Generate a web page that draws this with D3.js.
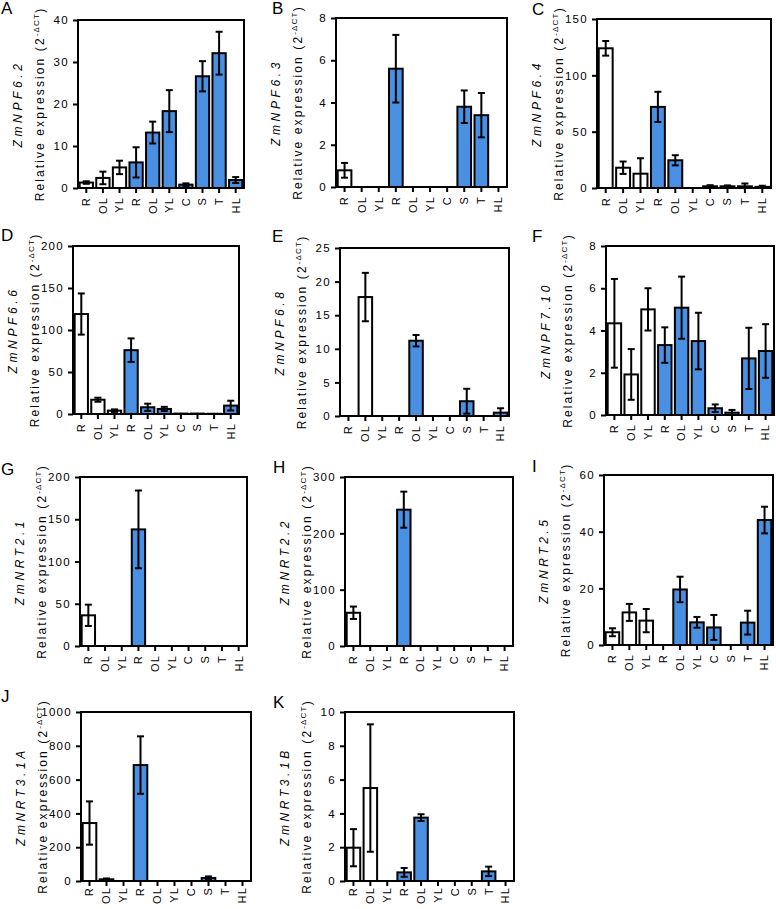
<!DOCTYPE html>
<html><head><meta charset="utf-8">
<script src="https://cdn.jsdelivr.net/npm/d3@7"></script>
<style>
html,body{margin:0;padding:0;background:#fff;}
svg{display:block;font-family:"Liberation Sans",Arial,sans-serif;}
</style></head>
<body>
<svg id="chart" width="776" height="909"></svg>
<script>
// ---------- DATA ----------
const categories = ["R","OL","YL","R","OL","YL","C","S","T","HL"];
const tissueGroup = [0,0,0,1,1,1,1,1,1,1];
const panelLetters = ["A","B","C","D","E","F","G","H","I","J","K"];
const geneNames = ["ZmNPF6.2","ZmNPF6.3","ZmNPF6.4","ZmNPF6.6","ZmNPF6.8","ZmNPF7.10","ZmNRT2.1","ZmNRT2.2","ZmNRT2.5","ZmNRT3.1A","ZmNRT3.1B"];
const yTicks = [
  [0,10,20,30,40],
  [0,2,4,6,8],
  [0,50,100,150],
  [0,50,100,150,200],
  [0,5,10,15,20,25],
  [0,2,4,6,8],
  [0,50,100,150,200],
  [0,100,200,300],
  [0,20,40,60],
  [0,200,400,600,800,1000],
  [0,2,4,6,8,10]
];
const valuesA = [1.3,2.4,4.9,6.1,13.2,18.3,0.8,26.6,32.1,1.9];
const errorsA = [0.3,1.5,1.6,3.6,2.6,5.0,0.3,3.6,5.1,0.7];
const valuesB = [0.79,0,0,5.6,0,0,0,3.8,3.4,0];
const errorsB = [0.35,0,0,1.6,0,0,0,0.77,1.05,0];
const valuesC = [124,18,12.7,72,24.6,0,1.5,1.5,1.5,1];
const errorsC = [6.5,5.5,13.7,13.4,4.5,0,1,0.8,2.5,1];
const valuesD = [119,17,4,76,8,6,0.5,0.5,0.3,10];
const errorsD = [24.5,2.4,1.5,14,4.3,2.5,0,0,0,5.8];
const valuesE = [0,17.7,0,0,11.2,0,0,2.2,0,0.5];
const errorsE = [0,3.6,0,0,0.85,0,0,1.85,0,0.65];
const valuesF = [4.34,1.92,5.0,3.31,5.08,3.5,0.32,0.11,2.68,3.03];
const errorsF = [2.1,1.2,1.0,0.84,1.47,1.34,0.18,0.13,1.45,1.27];
const valuesG = [36.3,0,0,138,0,0,0,0,0,0];
const errorsG = [12.6,0,0,46,0,0,0,0,0,0];
const valuesH = [59,0,0,242,0,0,0,0,0,0];
const errorsH = [11,0,0,32,0,0,0,0,0,0];
const valuesI = [4.5,11.5,8.6,0,19.6,8.0,6.2,0,7.9,44.1];
const errorsI = [1.4,3,4.1,0,4.5,1.9,4.4,0,4.2,4.7];
const valuesJ = [343,10,0,686,0,0,0,18,0,0];
const errorsJ = [128,5,0,170,0,0,0,9,0,0];
const valuesK = [1.97,5.5,0,0.51,3.75,0,0,0,0.57,0];
const errorsK = [1.1,3.77,0,0.26,0.2,0,0,0,0.28,0];
const allValues = [valuesA,valuesB,valuesC,valuesD,valuesE,valuesF,valuesG,valuesH,valuesI,valuesJ,valuesK];
const allErrors = [errorsA,errorsB,errorsC,errorsD,errorsE,errorsF,errorsG,errorsH,errorsI,errorsJ,errorsK];

// ---------- LAYOUT ----------
const boxes = [
  [78,20,244,188],[336,18,507,187],[597,19,771,188],
  [73,246,239,414],[340,248,509,416],[606,246,774,415],
  [80,477,247,646],[345,477,513,646],[604,475,773,645],
  [81,712,251,881],[345,712,514,881]
];
const labelOffset = [9,9,9,9,9,9,9,9,9,6,6];
const letterPos = [[1,14],[272,14],[532,15],[1,241],[272,242],[532,242],[1,475],[273,473],[532,472],[1,702],[273,708]];
const blue = "#4a90e2";

const svg = d3.select("#chart");

boxes.forEach((b, p) => {
  const [x0,y0,x1,y1] = b;
  const g = svg.append("g");
  const x = d3.scaleBand().domain(d3.range(categories.length)).range([x0,x1]).paddingInner(0.2).paddingOuter(0.1);
  const ticks = yTicks[p];
  const y = d3.scaleLinear().domain([0, ticks[ticks.length-1]]).range([y1,y0]);
  const vals = allValues[p], errs = allErrors[p];
  const data = vals.map((v,i)=>({i, v, e: errs[i]}));

  // bars
  g.selectAll("rect.bar").data(data.filter(d=>d.v>0)).join("rect")
    .attr("class","bar")
    .attr("x", d=>x(d.i)).attr("width", x.bandwidth())
    .attr("y", d=>y(d.v)).attr("height", d=>y1 - y(d.v))
    .attr("fill", d=>tissueGroup[d.i]===0 ? "#fff" : blue)
    .attr("stroke","#000").attr("stroke-width",2);

  // error bars
  const eb = g.selectAll("g.err").data(data.filter(d=>d.v>0 && d.e>0)).join("g").attr("class","err")
    .attr("stroke","#000").attr("stroke-width",2);
  eb.append("line")
    .attr("x1", d=>x(d.i)+x.bandwidth()/2).attr("x2", d=>x(d.i)+x.bandwidth()/2)
    .attr("y1", d=>y(Math.max(0,d.v-d.e))).attr("y2", d=>y(d.v+d.e));
  eb.append("line")
    .attr("x1", d=>x(d.i)+x.bandwidth()/2-3.5).attr("x2", d=>x(d.i)+x.bandwidth()/2+3.5)
    .attr("y1", d=>y(d.v+d.e)).attr("y2", d=>y(d.v+d.e));
  eb.filter(d=>d.v-d.e>0).append("line")
    .attr("x1", d=>x(d.i)+x.bandwidth()/2-3.5).attr("x2", d=>x(d.i)+x.bandwidth()/2+3.5)
    .attr("y1", d=>y(d.v-d.e)).attr("y2", d=>y(d.v-d.e));

  // frame
  g.append("rect").attr("x",x0).attr("y",y0).attr("width",x1-x0).attr("height",y1-y0)
    .attr("fill","none").attr("stroke","#000").attr("stroke-width",2);

  // y axis
  const ya = g.append("g").attr("transform",`translate(${x0},0)`)
    .call(d3.axisLeft(y).tickValues(ticks).tickSize(5).tickPadding(4).tickFormat(d3.format("d")));
  ya.select(".domain").remove();
  ya.selectAll("line").attr("stroke","#000").attr("stroke-width",2);
  ya.selectAll("text").attr("font-size",11.5).attr("letter-spacing",1.3).attr("fill","#000")
    .attr("font-family","Liberation Sans, Arial, sans-serif");

  // x axis
  const xa = g.append("g").attr("transform",`translate(0,${y1})`)
    .call(d3.axisBottom(x).tickSize(5).tickFormat(i=>categories[i]));
  xa.select(".domain").remove();
  xa.selectAll("line").attr("stroke","#000").attr("stroke-width",2);
  xa.selectAll("text")
    .attr("font-size",11).attr("letter-spacing",1.2).attr("fill","#000")
    .attr("font-family","Liberation Sans, Arial, sans-serif")
    .attr("text-anchor","end")
    .attr("transform","rotate(-90)")
    .attr("x",-labelOffset[p]).attr("y",0).attr("dy","0.35em");

  // y title
  const cy = (y0+y1)/2;
  const t = g.append("text")
    .attr("transform",`translate(${x0-34},${cy}) rotate(-90)`)
    .attr("text-anchor","middle").attr("font-size",12).attr("letter-spacing",2.1).attr("fill","#000");
  t.append("tspan").text("Relative expression (2");
  t.append("tspan").attr("dy",-5).attr("font-size",8).attr("letter-spacing",1.2).text("-ΔCT");
  t.append("tspan").attr("dy",5).text(")");

  // gene name
  g.append("text")
    .attr("transform",`translate(${x0-56},${cy}) rotate(-90)`)
    .attr("text-anchor","middle").attr("font-size",12).attr("letter-spacing",3.6)
    .attr("font-style","italic").attr("fill","#000")
    .text(geneNames[p]);

  // panel letter
  svg.append("text").attr("x",letterPos[p][0]).attr("y",letterPos[p][1])
    .attr("font-size",17).attr("fill","#000").text(panelLetters[p]);
});
</script>
</body></html>
